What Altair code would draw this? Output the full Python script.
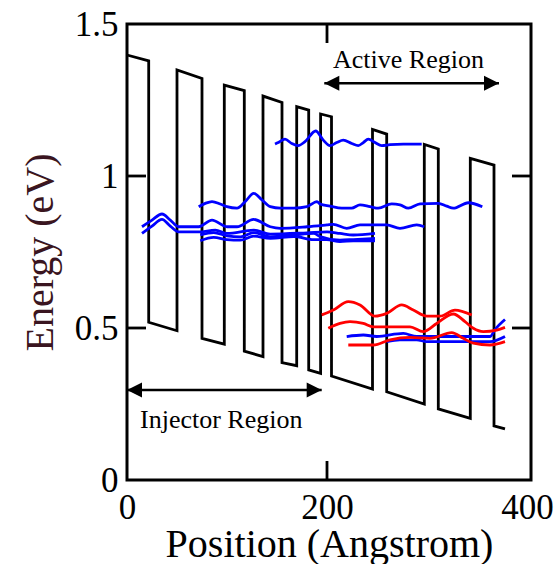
import altair as alt
import pandas as pd

# ---- conduction band profile (black) ----
band_x = [0, 21.7, 21.7, 50, 50, 75, 75, 97.3, 97.3, 117.3, 117.3, 136, 136, 155, 155,
          169.7, 169.7, 181.7, 181.7, 193.6, 193.6, 204.5, 204.5, 245.5, 245.5, 259.7,
          259.7, 297.3, 297.3, 311.3, 311.3, 343.3, 343.3, 367, 367, 378]
band_e = [1.398, 1.379, 0.519, 0.491, 1.349, 1.321, 0.466, 0.447, 1.299, 1.281, 0.424,
          0.406, 1.263, 1.242, 0.386, 0.376, 1.228, 1.217, 0.362, 0.351, 1.204, 1.195,
          0.342, 0.299, 1.153, 1.138, 0.29, 0.25, 1.104, 1.089, 0.234, 0.203, 1.058,
          1.036, 0.178, 0.168]

# ---- wavefunctions ----
u_x = [148, 151.3, 158, 164.7, 171.3, 178, 188.7, 196.3, 203, 209.7, 216.3, 224.7, 231.3,
       236.3, 241.3, 248, 254.7, 263, 276.3, 294.7]
u_e = [1.105, 1.110, 1.121, 1.107, 1.100, 1.113, 1.148, 1.118, 1.100, 1.110, 1.118, 1.107,
       1.100, 1.110, 1.121, 1.110, 1.100, 1.103, 1.105, 1.105]

m_x = [71.7, 78.3, 85, 93.3, 100, 110, 118.3, 126.7, 135, 143.3, 153.3, 166.7, 180, 190,
       193, 203, 214.7, 224.7, 233, 243, 251.3, 264.7, 273, 281.3, 293, 311.3, 319.7,
       326.3, 341.3, 355.3]
m_e = [0.899, 0.910, 0.916, 0.908, 0.899, 0.894, 0.916, 0.943, 0.921, 0.899, 0.894, 0.894,
       0.899, 0.916, 0.908, 0.901, 0.894, 0.894, 0.905, 0.899, 0.894, 0.908, 0.905, 0.894,
       0.908, 0.910, 0.901, 0.894, 0.912, 0.899]

l1_x = [15, 25, 35, 43.3, 51.7, 71.7, 85, 100, 110, 126.7, 143.3, 153.3, 180, 200, 206.3,
        219.7, 233, 259.7, 273, 289.7, 297.3]
l1_e = [0.833, 0.855, 0.875, 0.855, 0.833, 0.833, 0.855, 0.833, 0.833, 0.857, 0.833, 0.828,
        0.833, 0.839, 0.841, 0.828, 0.839, 0.839, 0.828, 0.839, 0.833]

l2_x = [15, 25, 35, 43.3, 51.7, 71.7, 88.3, 100, 126.7, 143.3, 180, 200, 213, 226.3, 248]
l2_e = [0.811, 0.835, 0.857, 0.835, 0.816, 0.816, 0.822, 0.811, 0.822, 0.809, 0.813, 0.816,
        0.811, 0.806, 0.811]

l3_x = [73.3, 86.7, 100, 113.3, 126.7, 143.3, 166.7, 186.7, 193, 213, 226.3, 248]
l3_e = [0.806, 0.814, 0.803, 0.800, 0.814, 0.800, 0.806, 0.811, 0.801, 0.789, 0.791, 0.795]

l4_x = [73.3, 86.7, 100, 113.3, 126.7, 143.3, 166.7, 186.7, 199.7, 213, 226.3, 248]
l4_e = [0.787, 0.798, 0.791, 0.789, 0.802, 0.795, 0.801, 0.791, 0.791, 0.784, 0.787, 0.787]

r1_x = [194.7, 206.3, 221.3, 233, 248, 259.7, 274.7, 286.3, 299.7, 313, 328, 344.7]
r1_e = [0.543, 0.559, 0.587, 0.576, 0.539, 0.548, 0.576, 0.559, 0.539, 0.539, 0.559, 0.543]

r2_x = [201.3, 213, 223, 236.3, 246.3, 283, 296.3, 309.7, 326.3, 338, 346.3, 356.3, 369.7, 378]
r2_e = [0.499, 0.515, 0.521, 0.515, 0.504, 0.504, 0.488, 0.515, 0.546, 0.521, 0.499, 0.488,
        0.493, 0.502]

r3_x = [221.3, 246.3, 263, 283, 303, 324.7, 336.3, 346.3, 363, 378]
r3_e = [0.444, 0.444, 0.461, 0.469, 0.466, 0.485, 0.466, 0.450, 0.444, 0.455]

b1_x = [219.7, 236.3, 249.7, 276.3, 289.7, 333, 363, 368, 378]
b1_e = [0.472, 0.477, 0.472, 0.482, 0.472, 0.472, 0.472, 0.495, 0.528]

b2_x = [259.7, 273, 289.7, 299.7, 333, 363, 378]
b2_e = [0.455, 0.461, 0.461, 0.455, 0.455, 0.455, 0.472]

waves = [
    ("u", "#0000ff", u_x, u_e), ("m", "#0000ff", m_x, m_e),
    ("l1", "#0000ff", l1_x, l1_e), ("l2", "#0000ff", l2_x, l2_e),
    ("l3", "#0000ff", l3_x, l3_e), ("l4", "#0000ff", l4_x, l4_e),
    ("b1", "#0000ff", b1_x, b1_e), ("b2", "#0000ff", b2_x, b2_e),
    ("r1", "#ff0000", r1_x, r1_e), ("r2", "#ff0000", r2_x, r2_e),
    ("r3", "#ff0000", r3_x, r3_e),
]

# ---- axis ticks / annotations ----
x_ticks = [0, 200, 400]
y_ticks = [0, 0.5, 1, 1.5]
inner_y_ticks = [0.5, 1.0]
inner_x_ticks = [200]

arrow_start = [197.3, 0]
arrow_end = [372, 194.7]
arrow_e = [1.305, 0.296]
label_x = [206, 13]
label_e = [1.355, 0.171]
labels = ["Active Region", "Injector Region"]

# ---- build tables ----
band_df = pd.DataFrame({"x": band_x, "e": band_e, "i": list(range(len(band_x)))})
rows = []
for name, col, xs, es in waves:
    for k, (xv, ev) in enumerate(zip(xs, es)):
        rows.append({"x": xv, "e": ev, "s": name, "c": col, "i": k})
wave_df = pd.DataFrame(rows)

W, H = 404, 456
sx = alt.Scale(domain=[0, 404], nice=False, zero=False)
sy = alt.Scale(domain=[0, 1.5], nice=False, zero=False)
FONT = "Liberation Serif"

x_axis = alt.Axis(values=x_ticks, format="d", title="Position (Angstrom)",
                  labelFont=FONT, titleFont=FONT, labelFontSize=35, titleFontSize=40,
                  titleFontWeight="normal", labelColor="black", titleColor="black",
                  labelPadding=10, labelFlush=False, labelOverlap=False,
                  titleX=202, titleY=76, titleAlign="center", titleBaseline="alphabetic")
y_axis = alt.Axis(values=y_ticks, format="~g", title="Energy (eV)",
                  labelFont=FONT, titleFont=FONT, labelFontSize=35, titleFontSize=40,
                  titleFontWeight="normal", labelColor="black",
                  labelPadding=9, labelOverlap=False, labelFlush=False,
                  titleX=-75, titleY=228, titleAngle=270, titleAlign="center",
                  titleBaseline="alphabetic", titleColor="#3a1520")


def X(field="x"):
    return alt.X(f"{field}:Q", scale=sx, axis=x_axis)


def Y(field="e"):
    return alt.Y(f"{field}:Q", scale=sy, axis=y_axis)


band = alt.Chart(band_df).mark_line(color="black", strokeWidth=2.8).encode(
    x=X(), y=Y(), order=alt.Order("i:Q"),
)

wave = alt.Chart(wave_df).mark_line(interpolate="monotone", strokeWidth=2.8).encode(
    x=X(), y=Y(),
    color=alt.Color("c:N", scale=None),
    detail="s:N",
    order=alt.Order("i:Q"),
)

ydf = pd.DataFrame({"e": inner_y_ticks})
xdf = pd.DataFrame({"x": inner_x_ticks})
tick_l = alt.Chart(ydf).mark_rule(color="black", strokeWidth=2.8).encode(
    y=Y(), x=alt.value(0), x2=alt.value(19))
tick_r = alt.Chart(ydf).mark_rule(color="black", strokeWidth=2.8).encode(
    y=Y(), x=alt.value(W - 19), x2=alt.value(W))
tick_t = alt.Chart(xdf).mark_rule(color="black", strokeWidth=2.8).encode(
    x=X(), y=alt.value(0), y2=alt.value(19))
tick_b = alt.Chart(xdf).mark_rule(color="black", strokeWidth=2.8).encode(
    x=X(), y=alt.value(H - 19), y2=alt.value(H))

adf = pd.DataFrame({"x": arrow_start, "x2": arrow_end, "e": arrow_e})
arrow_line = alt.Chart(adf).mark_rule(color="black", strokeWidth=2.5).encode(
    x=X(), x2="x2:Q", y=Y())
head_l = alt.Chart(adf).mark_point(shape="M0,0L2,-1L2,1Z", size=225, filled=True,
                                   color="black", opacity=1, strokeWidth=0).encode(
    x=X(), y=Y())
head_r = alt.Chart(adf).mark_point(shape="M0,0L-2,-1L-2,1Z", size=225, filled=True,
                                   color="black", opacity=1, strokeWidth=0).encode(
    x=X("x2"), y=Y())

tdf = pd.DataFrame({"x": label_x, "e": label_e, "t": labels})
text = alt.Chart(tdf).mark_text(align="left", baseline="alphabetic", font=FONT,
                                fontSize=26, color="black").encode(
    x=X(), y=Y(), text="t:N")

chart = alt.layer(band, wave, tick_l, tick_r, tick_t, tick_b, arrow_line, head_l, head_r, text).properties(
    width=W, height=H,
    autosize=alt.AutoSizeParams(type="none"),
    padding={"left": 127, "top": 24, "right": 26, "bottom": 84},
).configure(font=FONT).configure_view(stroke="black", strokeWidth=3).configure_axis(
    grid=False, ticks=False, domain=False,
)

chart.save("out.html", embed_options={"renderer": "svg", "actions": False})
